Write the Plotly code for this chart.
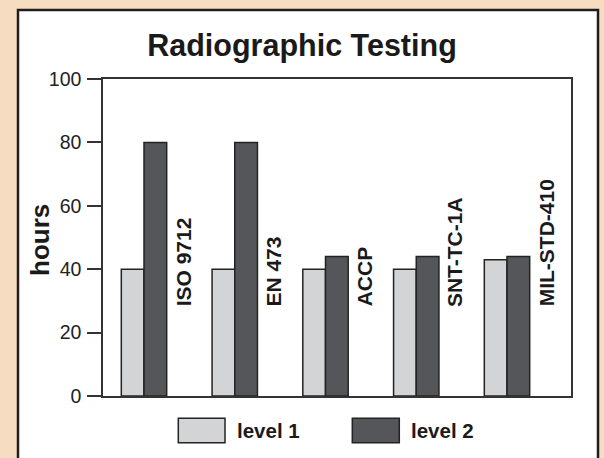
import plotly.graph_objects as go

categories = ["ISO 9712", "EN 473", "ACCP", "SNT-TC-1A", "MIL-STD-410"]
level1 = [40, 40, 40, 40, 43]
level2 = [80, 80, 44, 44, 44]
series_names = ["level 1", "level 2"]
y_ticks = [0, 20, 40, 60, 80, 100]

COL_L1 = "#d3d4d6"
COL_L2 = "#545659"
EDGE = "#232323"
PEACH = "#f6dcc1"
FONT = "Liberation Sans, Arial, Helvetica, sans-serif"

W, H = 604, 458
ML, MR, MT, MB = 103, 33, 79, 62
PW = W - ML - MR
PH = H - MT - MB

def px_x(px):
    return (px - ML) / PW

def px_y(py):
    return (H - MB - py) / PH

xs = list(range(len(categories)))

fig = go.Figure()
fig.add_trace(go.Bar(x=xs, y=level1, name=series_names[0],
                     marker=dict(color=COL_L1, line=dict(color=EDGE, width=1.5))))
fig.add_trace(go.Bar(x=xs, y=level2, name=series_names[1],
                     marker=dict(color=COL_L2, line=dict(color=EDGE, width=1.5))))

# vertical category labels inside the plot
for i, c in enumerate(categories):
    fig.add_annotation(x=i + 0.43, y=27.5, xref="x", yref="y", text=f"<b>{c}</b>",
                       textangle=-90, showarrow=False, xanchor="center", yanchor="bottom",
                       font=dict(family=FONT, size=21, color="#1a1a1a"))

# y axis title
fig.add_annotation(x=px_x(40), y=px_y(240), xref="paper", yref="paper", text="<b>hours</b>",
                   textangle=-90, showarrow=False, xanchor="center", yanchor="middle",
                   font=dict(family=FONT, size=26, color="#1a1a1a"))

shapes = [
    # white framed panel
    dict(type="rect", xref="paper", yref="paper", layer="below",
         x0=px_x(18), x1=px_x(598), y0=px_y(475), y1=px_y(10),
         fillcolor="white", line=dict(color="#1e1e1e", width=2.5)),
]
# custom legend swatches
legend_items = [(178.3, 225.0, 237.3, COL_L1, series_names[0]),
                (352.3, 399.3, 410.7, COL_L2, series_names[1])]
for x0, x1, tx, col, name in legend_items:
    shapes.append(dict(type="rect", xref="paper", yref="paper",
                       x0=px_x(x0), x1=px_x(x1), y0=px_y(442.7), y1=px_y(418.3),
                       fillcolor=col, line=dict(color=EDGE, width=1.5)))
    fig.add_annotation(x=px_x(tx - 2), y=px_y(430.5), xref="paper", yref="paper",
                       text=f"<b>{name}</b>", showarrow=False, xanchor="left", yanchor="middle",
                       font=dict(family=FONT, size=20.5, color="#1a1a1a"))

fig.update_layout(
    width=W, height=H,
    margin=dict(l=ML, r=MR, t=MT, b=MB, pad=0, autoexpand=False),
    paper_bgcolor=PEACH, plot_bgcolor="white",
    barmode="group", bargap=0.5, bargroupgap=0,
    showlegend=False,
    shapes=shapes,
    title=dict(text="<b>Radiographic Testing</b>", x=0.5, xanchor="center",
               y=1 - 45 / H, yanchor="middle", yref="container",
               font=dict(family=FONT, size=30.5, color="#1a1a1a")),
    font=dict(family=FONT, color="#222"),
)
fig.update_xaxes(range=[(ML - 144) / 90.75, (W - MR - 144) / 90.75], automargin=False,
                 showticklabels=False, ticks="", showgrid=False, zeroline=False,
                 showline=True, linecolor="#333", linewidth=1.5, mirror=True)
fig.update_yaxes(range=[0, 100], tickvals=y_ticks, ticks="outside", ticklen=14,
                 tickwidth=1.5, tickcolor="#333", showgrid=False, zeroline=False,
                 showline=True, linecolor="#333", linewidth=1.5, mirror=True,
                 automargin=False, ticklabelstandoff=2,
                 tickfont=dict(family=FONT, size=19.5, color="#222"))

fig.write_html("out.html", config={"displayModeBar": False},
               post_script="document.body.style.margin='0';document.body.style.overflow='hidden';")
